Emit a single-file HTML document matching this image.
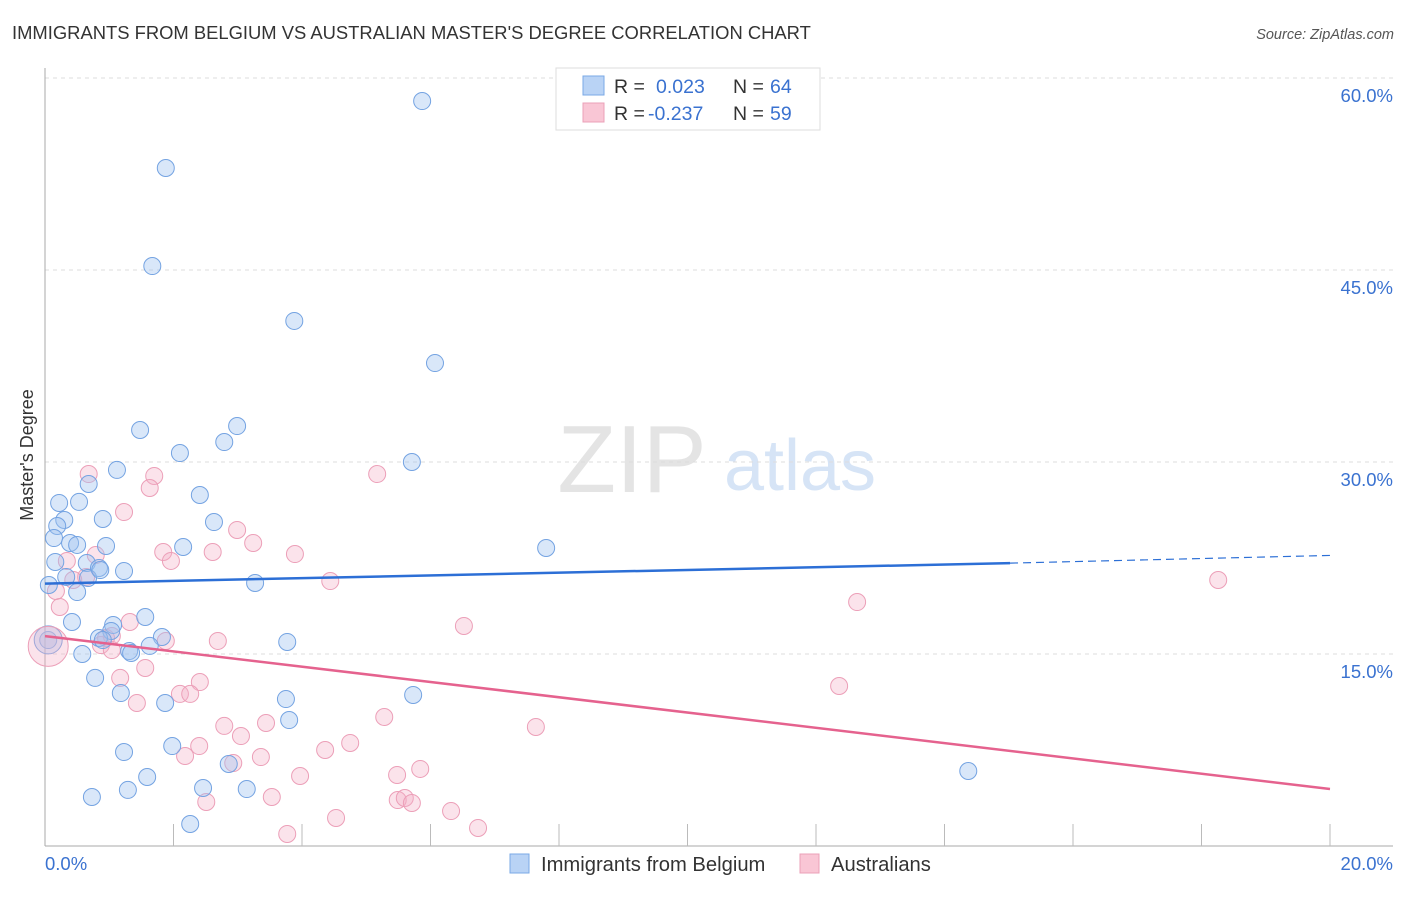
<!DOCTYPE html>
<html><head><meta charset="utf-8"><style>
body{margin:0;background:#fff;font-family:"Liberation Sans",sans-serif}
svg text{font-family:"Liberation Sans",sans-serif}
</style></head><body>
<svg id="c" width="1406" height="892">
<text x="12" y="39" font-size="18.4" fill="#333">IMMIGRANTS FROM BELGIUM VS AUSTRALIAN MASTER'S DEGREE CORRELATION CHART</text>
<text x="1394" y="39" font-size="14.5" fill="#555" text-anchor="end" font-style="italic">Source: ZipAtlas.com</text>
<text x="33" y="455" font-size="18" fill="#333" text-anchor="middle" transform="rotate(-90 33 455)">Master's Degree</text>
<g><text x="632" y="492" font-size="96" fill="#e4e4e4" text-anchor="middle" font-family="Liberation Serif,serif">ZIP</text><text x="800" y="490" font-size="72" fill="#d6e4f6" text-anchor="middle">atlas</text></g>
<g id="grid"></g><g id="marks"></g><g id="lines"></g>
<g>
<rect x="556" y="68" width="264" height="62" fill="#fff" stroke="#ddd"/>
<rect x="583" y="76" width="21" height="19" fill="#b9d3f5" stroke="#7aa8e6"/>
<rect x="583" y="103" width="21" height="19" fill="#f9c6d5" stroke="#eba0b8"/>
<text x="614" y="93" font-size="19.5" fill="#333">R = </text><text x="656" y="93" font-size="19.5" fill="#3a72d0">0.023</text><text x="733" y="93" font-size="19.5" fill="#333">N = </text><text x="770" y="93" font-size="19.5" fill="#3a72d0">64</text>
<text x="614" y="120" font-size="19.5" fill="#333">R = </text><text x="648" y="120" font-size="19.5" fill="#3a72d0">-0.237</text><text x="733" y="120" font-size="19.5" fill="#333">N = </text><text x="770" y="120" font-size="19.5" fill="#3a72d0">59</text>
</g>
<g>
<rect x="510" y="854" width="19" height="19" fill="#b9d3f5" stroke="#7aa8e6"/><text x="541" y="871" font-size="20.2" fill="#333">Immigrants from Belgium</text>
<rect x="800" y="854" width="19" height="19" fill="#f9c6d5" stroke="#eba0b8"/><text x="831" y="871" font-size="20.2" fill="#333">Australians</text>
</g>
</svg>
<script>
const xTicks=[0,20];
const yTicks=[15,30,45,60];
const blueX=[5.87,1.88,1.67,3.88,6.07,1.48,2.99,2.10,2.79,5.71,1.12,0.68,2.41,0.22,0.53,0.30,0.19,0.90,2.63,7.80,0.14,0.39,0.50,0.95,2.15,0.16,0.65,0.84,1.23,0.33,0.67,0.06,3.27,0.50,1.56,0.42,1.06,1.03,1.82,0.84,0.90,1.63,1.31,1.34,3.77,0.05,0.58,0.78,1.18,3.75,5.73,1.87,3.80,1.23,1.98,2.86,1.59,2.46,1.29,3.14,0.73,2.26,14.37,0.86];
const blueY=[58.20,52.97,45.31,41.02,37.73,32.50,32.81,30.70,31.56,30.00,29.38,28.28,27.42,26.80,26.88,25.47,25.00,25.55,25.31,23.28,24.06,23.67,23.52,23.44,23.36,22.19,22.11,21.72,21.48,21.02,20.94,20.39,20.55,19.84,17.89,17.50,17.27,16.80,16.33,16.25,16.09,15.63,15.23,15.08,15.94,16.09,15.00,13.13,11.95,11.48,11.80,11.17,9.84,7.34,7.81,6.41,5.39,4.53,4.38,4.45,3.83,1.72,5.86,21.56];
const pinkX=[0.68,1.70,1.63,5.17,1.23,2.99,3.24,1.84,2.61,3.89,1.96,0.79,0.34,4.44,0.64,0.44,18.26,12.64,0.17,0.23,6.52,1.32,2.69,1.88,0.95,0.87,1.04,1.56,2.41,1.17,2.10,2.26,12.36,1.43,2.79,3.44,5.28,7.64,3.05,2.40,2.18,4.36,4.75,3.36,2.93,3.97,5.48,5.84,2.51,3.53,5.49,5.60,5.71,6.32,3.77,4.53,6.74,1.04];
const pinkY=[29.06,28.91,27.97,29.06,26.09,24.69,23.67,22.97,22.97,22.81,22.27,22.73,22.27,20.70,21.02,20.78,20.78,19.06,19.92,18.67,17.19,17.50,16.02,16.02,16.25,15.70,15.31,13.91,12.81,13.13,11.88,11.88,12.50,11.17,9.38,9.61,10.08,9.30,8.59,7.81,7.03,7.50,8.05,6.95,6.48,5.47,5.55,6.02,3.44,3.83,3.59,3.75,3.36,2.73,0.94,2.19,1.41,16.41];
const bigX=[0.05,0.05];const bigY=[16.1,15.6];
const blueTrend=[20.5,22.1,22.7];const trendX=[0,15.02,20];
const pinkTrend=[16.4,4.45];
const X=v=>45+v/20*1285, Y=v=>846-v/15*192;
const NS='http://www.w3.org/2000/svg';
function mk(p,t,a){const e=document.createElementNS(NS,t);for(const k in a)e.setAttribute(k,a[k]);p.appendChild(e);return e;}
const g=document.getElementById('grid'),m=document.getElementById('marks'),l=document.getElementById('lines');
yTicks.forEach(t=>{const e=mk(g,'line',{x1:45,x2:1393,y1:Y(t),y2:Y(t),stroke:'#ddd','stroke-dasharray':'4,4'});


const tx=mk(g,'text',{x:1393,y:Y(t)+24,'font-size':18.5,fill:'#3a72d0','text-anchor':'end'});tx.textContent=t.toFixed(1)+'%';

});
mk(g,'line',{x1:45,x2:45,y1:68,y2:846,stroke:'#aaa'});
mk(g,'line',{x1:45,x2:1393,y1:846,y2:846,stroke:'#aaa'});
for(let i=1;i<=10;i++){const e=mk(g,'line',{x1:X(i*2),x2:X(i*2),y1:824,y2:846,stroke:'#bbb'});

}
xTicks.forEach((t,i)=>{const tx=mk(g,'text',{x:i?1393:45,y:870,'font-size':18.5,fill:'#3a72d0','text-anchor':i?'end':'start'});tx.textContent=t.toFixed(1)+'%';

});
pinkX.forEach((v,i)=>{const c=mk(m,'circle',{cx:X(v),cy:Y(pinkY[i]),r:8.5,fill:'rgba(244,176,198,0.35)',stroke:'#ec9fb8','stroke-width':1});

});
blueX.forEach((v,i)=>{const c=mk(m,'circle',{cx:X(v),cy:Y(blueY[i]),r:8.5,fill:'rgba(160,194,240,0.4)',stroke:'#74a3e2','stroke-width':1});

});
const b1=mk(m,'circle',{cx:X(bigX[0]),cy:Y(bigY[0]),r:14,fill:'rgba(160,194,240,0.4)',stroke:'#74a3e2'});


const b2=mk(m,'circle',{cx:X(bigX[1]),cy:Y(bigY[1]),r:20,fill:'rgba(244,176,198,0.35)',stroke:'#ec9fb8'});


const t1=mk(l,'line',{x1:X(trendX[0]),y1:Y(blueTrend[0]),x2:X(trendX[1]),y2:Y(blueTrend[1]),stroke:'#2c6fd6','stroke-width':2.5});


const t2=mk(l,'line',{x1:X(trendX[1]),y1:Y(blueTrend[1]),x2:X(trendX[2]),y2:Y(blueTrend[2]),stroke:'#2c6fd6','stroke-width':1.2,'stroke-dasharray':'8,5'});


const t3=mk(l,'line',{x1:X(0),y1:Y(pinkTrend[0]),x2:X(20),y2:Y(pinkTrend[1]),stroke:'#e5628e','stroke-width':2.5});


</script>
</body></html>
